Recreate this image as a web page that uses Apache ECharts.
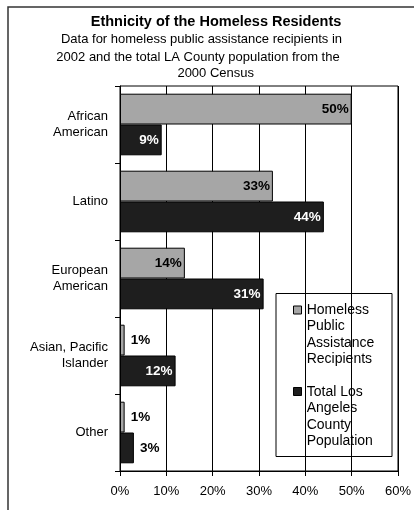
<!DOCTYPE html>
<html>
<head>
<meta charset="utf-8">
<script src="https://cdn.jsdelivr.net/npm/echarts@6/dist/echarts.min.js"></script>
<style>
  html, body { margin: 0; padding: 0; background: #fff; }
  #chart { width: 414px; height: 510px; }
</style>
</head>
<body>
<div id="chart"></div>
<script>
// Ethnic groups (top to bottom)
const categories = ['African\nAmerican', 'Latino', 'European\nAmerican', 'Asian, Pacific\nIslander', 'Other'];
// Share of homeless public assistance recipients, 2002 (%)
const homelessShare = [50, 33, 14, 1, 1];
// Share of total LA County population, 2000 Census (%)
const countyShare = [9, 44, 31, 12, 3];
const seriesNames = ['Homeless\nPublic\nAssistance\nRecipients', 'Total Los\nAngeles\nCounty\nPopulation'];
const xTicks = { min: 0, max: 60, step: 10 };

const FONT = '"Liberation Sans", Arial, sans-serif';
const GRAY = '#a6a6a6';
const DARK = '#1e1e1e';

// Small bars get their label outside, larger bars inside at the end
function withLabels(values, insideColor) {
  return values.map(v => ({
    value: v,
    label: v <= 5
      ? { position: 'right', distance: 6, color: '#000' }
      : { position: 'insideRight', distance: 3, color: insideColor }
  }));
}

const chart = echarts.init(document.getElementById('chart'), null, { renderer: 'canvas' });

const option = {
  backgroundColor: '#fff',
  animation: false,
  textStyle: { fontFamily: FONT },
  grid: {
    left: 120, right: 15, top: 86, bottom: 39,
    show: true, borderColor: '#000', borderWidth: 1, backgroundColor: '#fff'
  },
  xAxis: {
    type: 'value',
    min: xTicks.min, max: xTicks.max, interval: xTicks.step,
    axisLine: { show: true, lineStyle: { color: '#000', width: 1 } },
    axisTick: { show: true, length: 5, lineStyle: { color: '#000' } },
    axisLabel: { formatter: '{value}%', color: '#000', fontSize: 13, fontFamily: FONT, margin: 14 },
    splitLine: { show: true, lineStyle: { color: '#000', width: 1 } }
  },
  yAxis: {
    type: 'category',
    data: categories,
    inverse: true,
    axisLine: { show: true, lineStyle: { color: '#000', width: 1 } },
    axisTick: { show: true, length: 5, alignWithLabel: false, lineStyle: { color: '#000' } },
    axisLabel: { color: '#000', fontSize: 13, fontFamily: FONT, lineHeight: 16, margin: 12, align: 'right' },
    splitLine: { show: false }
  },
  legend: { show: false },
  series: [
    {
      name: seriesNames[0],
      type: 'bar',
      data: withLabels(homelessShare, '#000'),
      barGap: '0%',
      barCategoryGap: '20%',
      itemStyle: { color: GRAY, borderColor: '#000', borderWidth: 1 },
      label: {
        show: true, formatter: '{c}%', fontSize: 13.5, fontWeight: 'bold', fontFamily: FONT
      }
    },
    {
      name: seriesNames[1],
      type: 'bar',
      data: withLabels(countyShare, '#fff'),
      barGap: '0%',
      barCategoryGap: '20%',
      itemStyle: { color: DARK, borderColor: '#000', borderWidth: 1 },
      label: {
        show: true, formatter: '{c}%', fontSize: 13.5, fontWeight: 'bold', fontFamily: FONT
      }
    }
  ],
  graphic: [
    // outer chart frame
    { type: 'rect', silent: true, z: 0,
      shape: { x: 8, y: 7, width: 520, height: 600 },
      style: { fill: null, stroke: '#333', lineWidth: 1.5 } },
    // title block
    { type: 'text', silent: true, x: 216, y: 22,
      style: { text: 'Ethnicity of the Homeless Residents', font: 'bold 14.5px ' + FONT,
               fill: '#000', align: 'center', verticalAlign: 'middle' } },
    { type: 'text', silent: true, x: 201.5, y: 39,
      style: { text: 'Data for homeless public assistance recipients in', font: '13px ' + FONT,
               fill: '#000', align: 'center', verticalAlign: 'middle' } },
    { type: 'text', silent: true, x: 198, y: 57,
      style: { text: '2002 and the total LA County population from the', font: '13px ' + FONT,
               fill: '#000', align: 'center', verticalAlign: 'middle' } },
    { type: 'text', silent: true, x: 215.7, y: 73.5,
      style: { text: '2000 Census', font: '13px ' + FONT,
               fill: '#000', align: 'center', verticalAlign: 'middle' } },
    // legend
    { type: 'group', z: 50, children: [
      { type: 'rect', shape: { x: 276, y: 293.5, width: 116, height: 163 },
        style: { fill: '#fff', stroke: '#000', lineWidth: 1 } },
      { type: 'rect', shape: { x: 293.5, y: 306, width: 8, height: 8 },
        style: { fill: GRAY, stroke: '#000', lineWidth: 1 } },
      { type: 'text', x: 306.7, y: 301.8,
        style: { text: seriesNames[0], font: '14px ' + FONT, lineHeight: 16.5,
                 fill: '#000', verticalAlign: 'top' } },
      { type: 'rect', shape: { x: 293.5, y: 387.5, width: 8, height: 8 },
        style: { fill: DARK, stroke: '#000', lineWidth: 1 } },
      { type: 'text', x: 306.7, y: 383.5,
        style: { text: seriesNames[1], font: '14px ' + FONT, lineHeight: 16.5,
                 fill: '#000', verticalAlign: 'top' } }
    ] }
  ]
};

chart.setOption(option);
</script>
</body>
</html>
